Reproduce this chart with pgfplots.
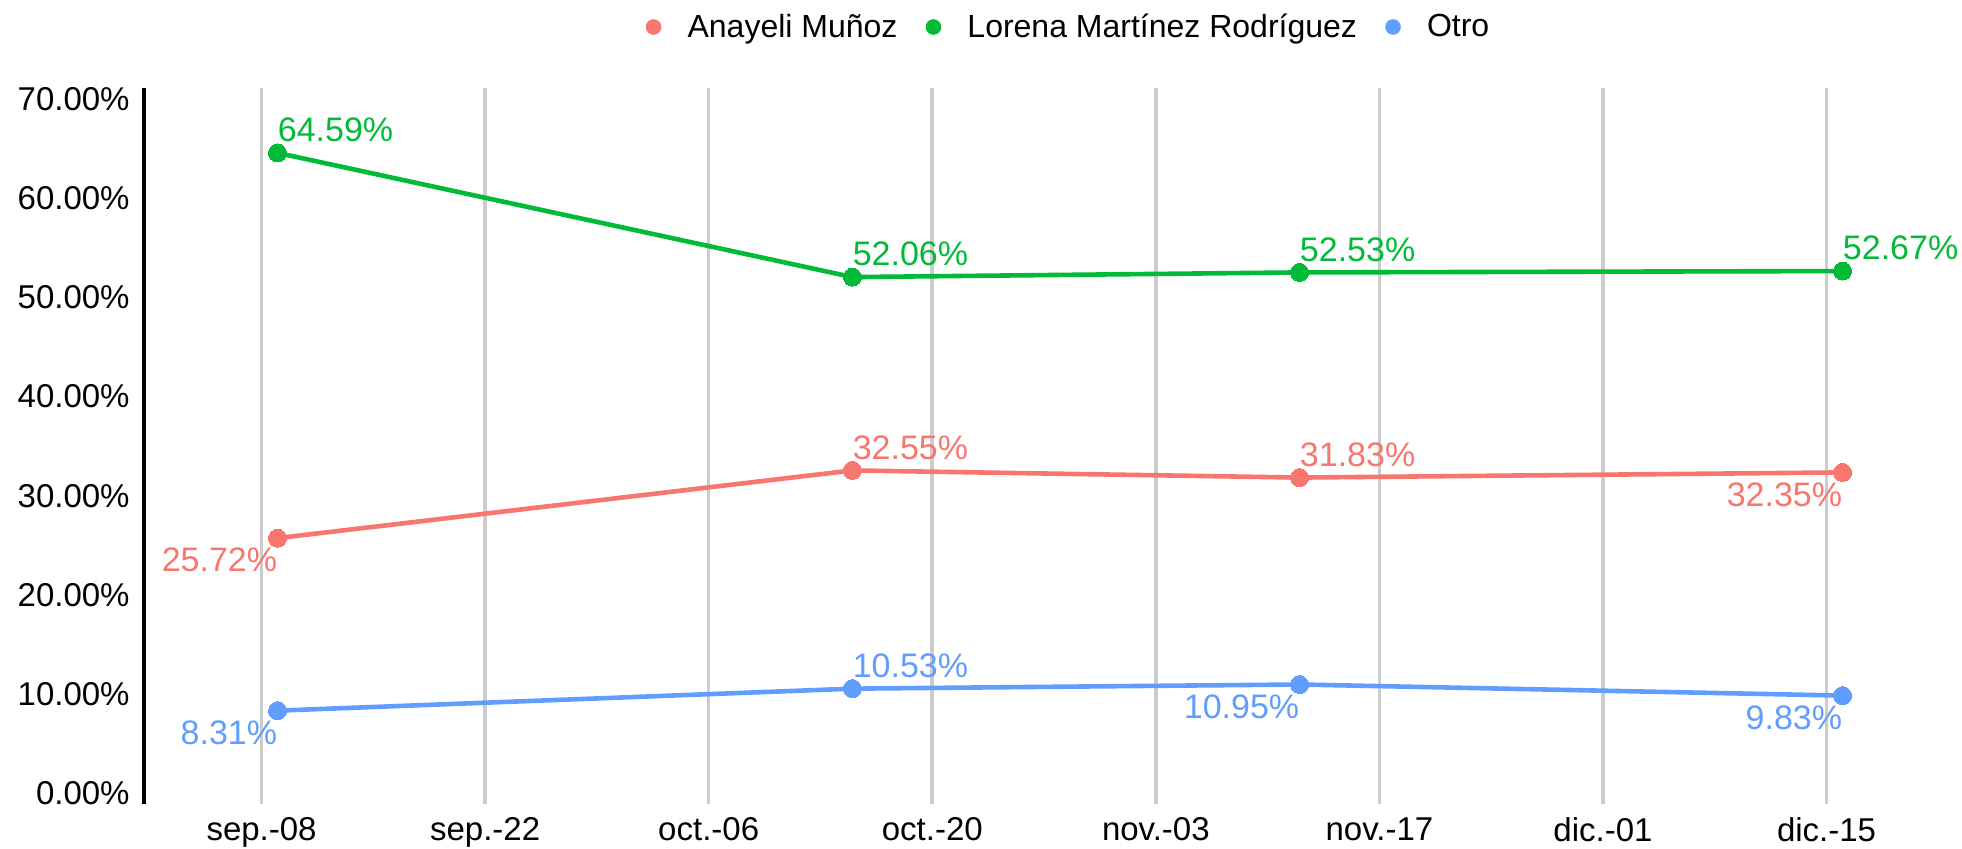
\documentclass[border=0pt]{standalone}
\usepackage{fontspec}
\setmainfont{Liberation Sans}
\usepackage{pgfplots}
\pgfplotsset{compat=1.18}
\definecolor{cRed}{HTML}{F8766D}
\definecolor{cGreen}{HTML}{00BA38}
\definecolor{cBlue}{HTML}{619CFF}
\pgfplotsset{
  above lbl/.style={draw=none, forget plot, point meta=y,
    nodes near coords={\pgfmathprintnumber[fixed,fixed zerofill,precision=2,assume math mode=true]{\pgfplotspointmeta}\%},
    every node near coord/.style={anchor=west, inner sep=0pt, yshift=11.5pt, text=#1, font=\fontsize{17}{20}\selectfont}},
  below lbl/.style={draw=none, forget plot, point meta=y,
    nodes near coords={\pgfmathprintnumber[fixed,fixed zerofill,precision=2,assume math mode=true]{\pgfplotspointmeta}\%},
    every node near coord/.style={anchor=east, inner sep=0pt, yshift=-11pt, text=#1, font=\fontsize{17}{20}\selectfont}},
  serie/.style={#1, line width=2.3pt, mark=*, mark size=4.5pt, mark options={solid, fill=#1, draw=#1, line width=0pt}, forget plot},
}
\begin{document}
\begin{tikzpicture}
\useasboundingbox (0,0) rectangle (981pt,424pt);
\begin{axis}[
  at={(72pt,22pt)}, anchor=south west,
  width=878pt, height=358pt, scale only axis,
  xmin=-7.36, xmax=102.6, ymin=-1.11, ymax=71.14,
  clip=false,
  axis lines=left, axis line style={-},
  x axis line style={draw=none},
  y axis line style={line width=2pt, black},
  xtick={0,14,28,42,56,70,84,98},
  xticklabels={sep.-08,sep.-22,oct.-06,oct.-20,nov.-03,nov.-17,dic.-01,dic.-15},
  ytick={0,10,20,30,40,50,60,70},
  yticklabel={\pgfmathprintnumber[fixed,fixed zerofill,precision=2,assume math mode=true]{\tick}\%},
  major tick length=0pt,
  tick style={draw=none},
  xmajorgrids, ymajorgrids=false,
  major grid style={line width=1.8pt, black!20},
  ticklabel style={font=\fontsize{16.5}{19}\selectfont},
  xticklabel style={anchor=north, inner sep=0pt, yshift=-6.5pt},
  yticklabel style={anchor=east, inner sep=0pt, xshift=-7pt},
  /pgf/number format/assume math mode=true,
  legend style={at={(0.527,1.0852)}, anchor=center, draw=none, fill=none,
    font=\fontsize{16}{19}\selectfont, legend columns=3,
    /tikz/every even column/.append style={column sep=12pt}},
  legend image code/.code={\fill[#1, draw=none] (0pt,0pt) circle (3.9pt); \path[draw=none, fill=none] (-4pt,0pt) -- (15pt,0pt);},
]
\addplot[serie=cRed] coordinates {(1,25.72) (37,32.55) (65,31.83) (99,32.35)};
\addplot[serie=cGreen] coordinates {(1,64.59) (37,52.06) (65,52.53) (99,52.67)};
\addplot[serie=cBlue] coordinates {(1,8.31) (37,10.53) (65,10.95) (99,9.83)};
% labels
\addplot[above lbl=cGreen] coordinates {(1,64.59) (37,52.06) (65,52.53) (99,52.67)};
\addplot[above lbl=cRed] coordinates {(37,32.55) (65,31.83)};
\addplot[below lbl=cRed] coordinates {(1,25.72) (99,32.35)};
\addplot[above lbl=cBlue] coordinates {(37,10.53)};
\addplot[below lbl=cBlue] coordinates {(1,8.31) (65,10.95) (99,9.83)};
\addlegendimage{cRed}\addlegendentry{Anayeli Muñoz}
\addlegendimage{cGreen}\addlegendentry{Lorena Martínez Rodríguez}
\addlegendimage{cBlue}\addlegendentry{Otro}
\end{axis}
\end{tikzpicture}
\end{document}
